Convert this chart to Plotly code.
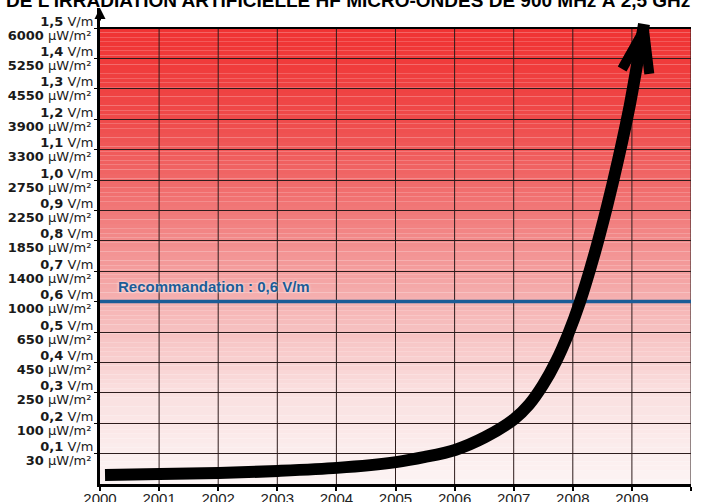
import math
import numpy as np
import plotly.graph_objects as go

# ---------------- data ----------------
years = [2000.085, 2001.015, 2002.01, 2003.01, 2004.01, 2005.01, 2005.50, 2006.007, 2006.514,
         2007.005, 2007.259, 2007.496, 2007.716, 2007.919, 2008.122, 2008.359, 2008.579,
         2008.765, 2008.968, 2009.205]
field_vm = [0.030, 0.033, 0.036, 0.043, 0.053, 0.072, 0.089, 0.112, 0.154,
            0.213, 0.261, 0.326, 0.403, 0.492, 0.599, 0.751, 0.913,
            1.065, 1.250, 1.513]

year_ticks = list(range(2000, 2011))
vm_levels = [0.1, 0.2, 0.3, 0.4, 0.5, 0.6, 0.7, 0.8, 0.9, 1.0, 1.1, 1.2, 1.3, 1.4, 1.5]
vm_labels = ["0,1", "0,2", "0,3", "0,4", "0,5", "0,6", "0,7", "0,8", "0,9", "1,0",
             "1,1", "1,2", "1,3", "1,4", "1,5"]
uw_labels = ["30", "100", "250", "450", "650", "1000", "1400", "1850", "2250", "2750",
             "3300", "3900", "4550", "5250", "6000"]
recommendation_vm = 0.6
recommendation_text = "Recommandation : 0,6 V/m"
title_text = "DE L'IRRADIATION ARTIFICIELLE HF MICRO-ONDES DE 900 MHz À 2,5 GHz"

# ---------------- layout constants ----------------
W, H = 705, 502
ML, MR, MT, MB = 100, 14, 8, 18
X_RANGE = [2000, 2010]
Y_TOP = 1.566
Y_RANGE = [0, Y_TOP]
PX_X = (W - ML - MR) / (X_RANGE[1] - X_RANGE[0])
PX_Y = (H - MT - MB) / (Y_RANGE[1] - Y_RANGE[0])

GRID = "rgb(45,28,28)"
BLUE = "rgb(28,92,150)"

fig = go.Figure()

# curve
fig.add_trace(go.Scatter(
    x=years, y=field_vm, mode="lines",
    line=dict(color="black", width=12, shape="spline", smoothing=0.8),
    hoverinfo="skip", showlegend=False))

# arrow head barbs derived from the last segment of the curve
tx, ty = years[-1], field_vm[-1]
px_, py_ = years[-2], field_vm[-2]
ang = math.atan2((ty - py_) * PX_Y, (tx - px_) * PX_X)
back = ang + math.pi
L = 50
half = math.radians(16)
bx, by = [], []
for s in (1, -1):
    a = back + s * half
    bx.append(tx + math.cos(a) * L / PX_X)
    by.append(ty + math.sin(a) * L / PX_Y)
fig.add_trace(go.Scatter(
    x=[bx[0], tx, bx[1]], y=[by[0], ty - 6 / PX_Y, by[1]], mode="lines",
    line=dict(color="black", width=10),
    hoverinfo="skip", showlegend=False))

# invisible trace for the second y axis
fig.add_trace(go.Scatter(x=[2000], y=[0], yaxis="y2", mode="markers",
                         marker=dict(opacity=0), hoverinfo="skip", showlegend=False))

# ---------------- background gradient ----------------
stops = [(0.0, (252, 244, 244)), (0.3, (250, 224, 224)), (0.6, (245, 178, 178)),
         (0.9, (241, 120, 120)), (1.2, (239, 74, 74)), (1.5, (240, 50, 50))]

def col(v):
    for (v0, c0), (v1, c1) in zip(stops[:-1], stops[1:]):
        if v <= v1:
            t = (v - v0) / (v1 - v0)
            return "rgb(%d,%d,%d)" % tuple(round(c0[i] + (c1[i] - c0[i]) * t) for i in range(3))
    return "rgb(%d,%d,%d)" % stops[-1][1]

shapes = []
edges = np.linspace(0, 1.5, 101)
for a, b in zip(edges[:-1], edges[1:]):
    shapes.append(dict(type="rect", xref="x", yref="y", x0=2000, x1=2010, y0=a, y1=b,
                       fillcolor=col((a + b) / 2), line=dict(width=0), layer="below"))
for yr in year_ticks[1:]:
    shapes.append(dict(type="line", xref="x", yref="y", x0=yr, x1=yr, y0=0, y1=1.5,
                       line=dict(color=GRID, width=1), layer="between"))
shapes.append(dict(type="line", xref="x", yref="y", x0=2000, x1=2010, y0=1.5, y1=1.5,
                   line=dict(color="black", width=2), layer="between"))
shapes.append(dict(type="line", xref="x", yref="y", x0=2000, x1=2010,
                   y0=recommendation_vm, y1=recommendation_vm,
                   line=dict(color=BLUE, width=3.5), layer="between"))

annotations = [
    dict(x=2000.27, y=recommendation_vm, xref="x", yref="y", xanchor="left", yanchor="middle",
         yshift=15, showarrow=False, text="<b>%s</b>" % recommendation_text,
         font=dict(family="Liberation Sans, Arial", size=15, color=BLUE,
                   shadow="0px 0px 3px white")),
    dict(x=2000, y=Y_TOP, xref="x", yref="y", ax=0, ay=14, showarrow=True, text="",
         arrowhead=2, arrowsize=1.1, arrowwidth=2, arrowcolor="black"),
    dict(x=(348 - ML) / (W - ML - MR), y=1.0155, xref="paper", yref="paper",
         xanchor="center", yanchor="middle",
         showarrow=False, text="<b>%s</b>" % title_text,
         font=dict(family="Liberation Sans, Arial", size=19, color="black")),
]

fig.update_layout(
    width=W, height=H, margin=dict(l=ML, r=MR, t=MT, b=MB, autoexpand=False),
    paper_bgcolor="white", plot_bgcolor="white",
    shapes=shapes, annotations=annotations, showlegend=False,
    xaxis=dict(range=X_RANGE, tickvals=year_ticks, ticktext=[str(y) for y in year_ticks],
               showgrid=False, zeroline=False, showline=True, linecolor="black", linewidth=2.5,
               ticks="outside", ticklen=4, tickcolor="black", tickwidth=1.5,
               ticklabelstandoff=-5,
               tickfont=dict(family="Liberation Sans, Arial", size=15, color="#222"),
               automargin=False, fixedrange=True),
    yaxis=dict(range=Y_RANGE, tickvals=vm_levels,
               ticktext=["<b>%s</b> μW/m²" % u for u in uw_labels],
               ticklabelshift=7,
               showgrid=True, gridcolor=GRID, gridwidth=1, zeroline=False,
               showline=True, linecolor="black", linewidth=3,
               ticks="outside", ticklen=3, tickcolor="black",
               tickfont=dict(family="DejaVu Sans", size=13, color="#1a1a1a"),
               automargin=False, fixedrange=True),
    yaxis2=dict(range=Y_RANGE, overlaying="y", side="left", anchor="x", tickvals=vm_levels,
                ticktext=["<b>%s</b> V/m" % v for v in vm_labels],
                ticklabelshift=-7,
                showgrid=False, zeroline=False, showline=False,
                ticks="outside", ticklen=3, tickcolor="rgba(0,0,0,0)",
                tickfont=dict(family="DejaVu Sans", size=13, color="#1a1a1a"),
                automargin=False, fixedrange=True),
)

fig.write_html("out.html", config={"displayModeBar": False},
               post_script="document.body.style.margin='0';document.body.style.overflow='hidden';")
